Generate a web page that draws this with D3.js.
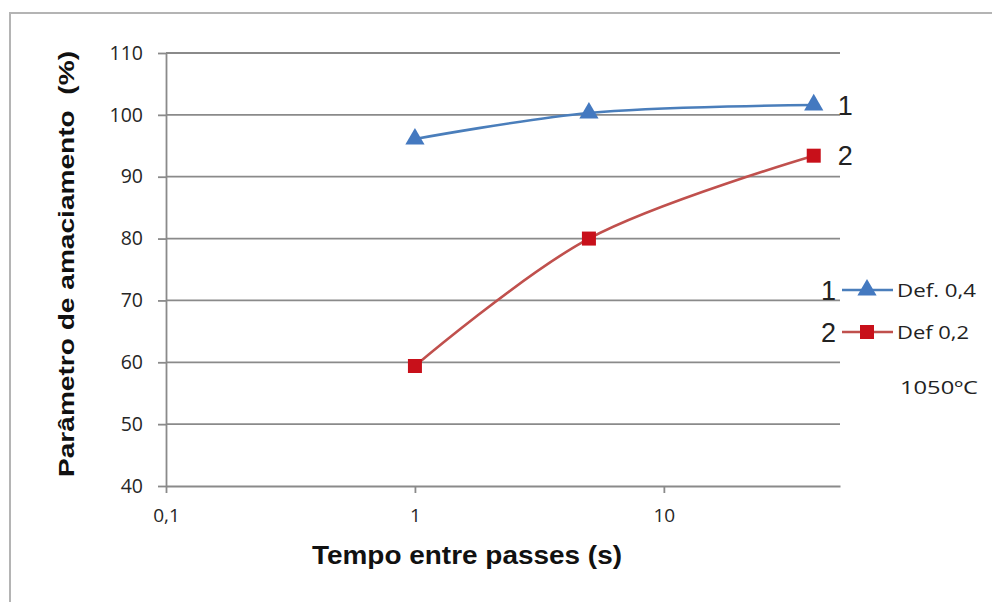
<!DOCTYPE html>
<html>
<head>
<meta charset="utf-8">
<script src="https://cdn.jsdelivr.net/npm/d3@7"></script>
<style>
  body { margin: 0; background: #fff; }
  svg { display: block; }
</style>
</head>
<body>
<div id="chart"></div>
<script>
// data
const times = [1, 5, 40];              // Tempo entre passes (s)
const def04 = [96.1, 100.3, 101.6];    // serie 1: Def. 0,4
const def02 = [59.4, 80, 93.4];        // serie 2: Def 0,2
const yTicks = [40, 50, 60, 70, 80, 90, 100, 110];
const xTicks = [0.1, 1, 10];
const xTickLabels = ["0,1", "1", "10"];

const W = 992, H = 602;
const svg = d3.select("#chart").append("svg")
  .attr("width", W).attr("height", H);

// outer frame (only top and left edge visible)
svg.append("path")
  .attr("d", "M10,602 L10,13 L992,13")
  .attr("fill", "none").attr("stroke", "#b4b4b4").attr("stroke-width", 2);

const x = d3.scaleLog().domain([0.1, 51]).range([166, 840]);
const y = d3.scaleLinear().domain([40, 110]).range([486, 53]);

const tickFont = "'Open Sans', 'DejaVu Sans', sans-serif";

// horizontal gridlines
svg.append("g")
  .selectAll("line")
  .data(yTicks.filter(d => d > 40))
  .enter().append("line")
  .attr("x1", x.range()[0]).attr("x2", x.range()[1])
  .attr("y1", d => y(d)).attr("y2", d => y(d))
  .attr("stroke", "#8a8a8a").attr("stroke-width", 1.8);

// y axis
const yAxis = svg.append("g")
  .attr("transform", `translate(${x.range()[0]},0)`)
  .call(d3.axisLeft(y).tickValues(yTicks).tickSize(8).tickPadding(15).tickSizeOuter(0));
yAxis.select(".domain").attr("stroke", "#8a8a8a").attr("stroke-width", 1.8);
yAxis.selectAll(".tick line").attr("stroke", "#8a8a8a").attr("stroke-width", 1.8);
yAxis.selectAll(".tick text")
  .attr("font-family", tickFont)
  .attr("font-size", 19.5).attr("fill", "#262626");

// x axis
const xAxis = svg.append("g")
  .attr("transform", `translate(0,${y.range()[0]})`)
  .call(d3.axisBottom(x).tickValues(xTicks).tickFormat((d, i) => xTickLabels[i])
    .tickSize(7).tickPadding(16).tickSizeOuter(0));
xAxis.select(".domain").attr("stroke", "#8a8a8a").attr("stroke-width", 1.8);
xAxis.selectAll(".tick line").attr("stroke", "#8a8a8a").attr("stroke-width", 1.8);
xAxis.selectAll(".tick text")
  .attr("font-family", tickFont)
  .attr("font-size", 19).attr("fill", "#262626");

// axis titles
svg.append("text")
  .attr("x", 467).attr("y", 564)
  .attr("text-anchor", "middle")
  .attr("font-family", "'Liberation Sans Narrow', 'Liberation Sans', Arial, sans-serif")
  .attr("font-weight", "bold").attr("font-size", 25).attr("fill", "#111")
  .attr("textLength", 310).attr("lengthAdjust", "spacingAndGlyphs")
  .text("Tempo entre passes (s)");

svg.append("text")
  .attr("transform", "translate(74,264) rotate(-90)")
  .attr("text-anchor", "middle")
  .attr("font-family", "'Liberation Sans', Arial, sans-serif")
  .attr("font-weight", "bold").attr("font-size", 22).attr("fill", "#111")
  .attr("textLength", 426).attr("lengthAdjust", "spacingAndGlyphs")
  .style("white-space", "pre")
  .text("Parâmetro de amaciamento  (%)");

// series
const blue = "#4a7ebb", blueMark = "#4479c0";
const red = "#c0504d", redMark = "#c8101a";

const line = d3.line()
  .x(d => x(d[0])).y(d => y(d[1]))
  .curve(d3.curveCatmullRom.alpha(0.5));

const s1 = times.map((t, i) => [t, def04[i]]);
const s2 = times.map((t, i) => [t, def02[i]]);

svg.append("path").datum(s1).attr("d", line)
  .attr("fill", "none").attr("stroke", blue).attr("stroke-width", 2.6);
svg.append("path").datum(s2).attr("d", line)
  .attr("fill", "none").attr("stroke", red).attr("stroke-width", 2.6);

const tri = d3.symbol().type(d3.symbolTriangle).size(160);
svg.append("g").selectAll("path")
  .data(s1).enter().append("path")
  .attr("d", tri)
  .attr("transform", d => `translate(${x(d[0])},${y(d[1])})`)
  .attr("fill", blueMark);

svg.append("g").selectAll("rect")
  .data(s2).enter().append("rect")
  .attr("x", d => x(d[0]) - 7).attr("y", d => y(d[1]) - 7)
  .attr("width", 14).attr("height", 14)
  .attr("fill", redMark);

// series numbers at line ends
const endLabel = (txt, yv, dx) => svg.append("text")
  .attr("x", x(times[times.length - 1]) + dx).attr("y", y(yv))
  .attr("dy", "0.36em")
  .attr("font-family", "'Liberation Sans', Arial, sans-serif")
  .attr("font-size", 27).attr("fill", "#222")
  .text(txt);
endLabel("1", def04[2], 24);
endLabel("2", def02[2], 24);

// legend
const legend = [
  { num: "1", name: "Def. 0,4", color: blue, mark: "tri", yy: 290, len: 79 },
  { num: "2", name: "Def 0,2", color: red, mark: "sq", yy: 332, len: 72 }
];
legend.forEach(l => {
  svg.append("text")
    .attr("x", 836).attr("y", l.yy).attr("dy", "0.36em")
    .attr("text-anchor", "end")
    .attr("font-family", "'Liberation Sans', Arial, sans-serif")
    .attr("font-size", 27).attr("fill", "#222")
    .text(l.num);
  svg.append("line")
    .attr("x1", 842).attr("x2", 893).attr("y1", l.yy).attr("y2", l.yy)
    .attr("stroke", l.color).attr("stroke-width", 2.6);
  if (l.mark === "tri") {
    svg.append("path").attr("d", tri)
      .attr("transform", `translate(867,${l.yy})`).attr("fill", blueMark);
  } else {
    svg.append("rect").attr("x", 860).attr("y", l.yy - 7)
      .attr("width", 14).attr("height", 14).attr("fill", redMark);
  }
  svg.append("text")
    .attr("x", 897).attr("y", l.yy).attr("dy", "0.36em")
    .attr("font-family", tickFont)
    .attr("font-size", 19).attr("fill", "#222")
    .attr("textLength", l.len).attr("lengthAdjust", "spacingAndGlyphs")
    .text(l.name);
});

svg.append("text")
  .attr("x", 900).attr("y", 387).attr("dy", "0.36em")
  .attr("font-family", tickFont)
  .attr("font-size", 19).attr("fill", "#222")
  .attr("textLength", 78).attr("lengthAdjust", "spacingAndGlyphs")
  .text("1050ºC");
</script>
</body>
</html>
